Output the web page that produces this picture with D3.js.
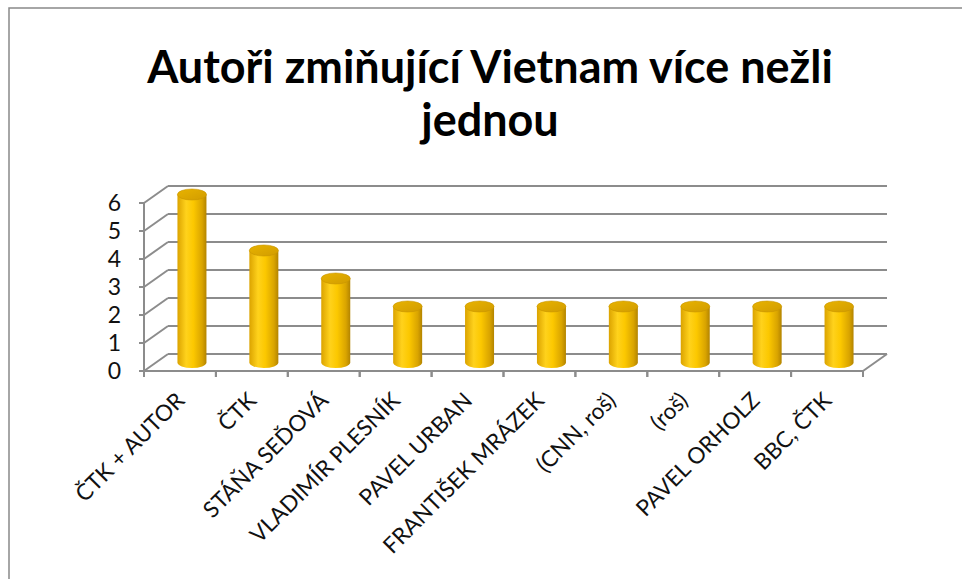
<!DOCTYPE html>
<html><head><meta charset="utf-8">
<script src="https://cdn.jsdelivr.net/npm/d3@7"></script>
<style>body{margin:0;background:#fff}svg{display:block}</style>
</head><body>
<script>
const categories = ["ČTK + AUTOR","ČTK","STÁŇA SEĎOVÁ","VLADIMÍR PLESNÍK","PAVEL URBAN","FRANTIŠEK MRÁZEK","(CNN, roš)","(roš)","PAVEL ORHOLZ","BBC, ČTK"];
const values = [6,4,3,2,2,2,2,2,2,2];
const yTicks = [0,1,2,3,4,5,6];
const titleLines = ["Autoři zmiňující Vietnam více nežli","jednou"];

const W=962,H=579;
const svg=d3.select("body").append("svg").attr("width",W).attr("height",H);
svg.append("rect").attr("x",9).attr("y",8).attr("width",1000).attr("height",1000)
  .attr("fill","#fff").attr("stroke","#898989").attr("stroke-width",1.5);

const t1=svg.append("text").attr("x",490).attr("y",83).attr("text-anchor","middle")
  .attr("font-family","Lato, 'Open Sans', sans-serif").attr("font-weight","bold").attr("font-size",38).text(titleLines[0]);
const len=t1.node().getComputedTextLength();
const fs=38*686/len;
t1.attr("font-size",fs);
svg.append("text").attr("x",490).attr("y",136).attr("text-anchor","middle")
  .attr("font-family","Lato, 'Open Sans', sans-serif").attr("font-weight","bold").attr("font-size",fs).text(titleLines[1]);

const x=d3.scaleBand().domain(categories).range([144,863]).paddingInner(0).paddingOuter(0);
const y=d3.scaleLinear().domain([0,6]).range([371,203]);
const dx=24, dy=-17;
const g=svg.append("g");
const grid="#8c8c8c";

yTicks.forEach(v=>{
  g.append("line").attr("x1",144+dx).attr("x2",863+dx).attr("y1",y(v)+dy).attr("y2",y(v)+dy)
   .attr("stroke",grid).attr("stroke-width",2);
  g.append("line").attr("x1",144).attr("y1",y(v)).attr("x2",144+dx).attr("y2",y(v)+dy)
   .attr("stroke",grid).attr("stroke-width",2);
});
g.append("line").attr("x1",863).attr("y1",y(0)).attr("x2",863+dx).attr("y2",y(0)+dy).attr("stroke",grid).attr("stroke-width",2);

const defs=svg.append("defs");
const gr=defs.append("linearGradient").attr("id","cyl").attr("x1",0).attr("x2",1).attr("y1",0).attr("y2",0);
[[0,"#dba300"],[0.3,"#ffd21c"],[0.55,"#fcc800"],[0.85,"#d9a400"],[1,"#b38400"]].forEach(([o,c])=>gr.append("stop").attr("offset",o).attr("stop-color",c));
const gt=defs.append("linearGradient").attr("id","cap").attr("x1",0).attr("x2",1).attr("y1",0).attr("y2",1);
[[0,"#e8b300"],[1,"#d19c00"]].forEach(([o,c])=>gt.append("stop").attr("offset",o).attr("stop-color",c));

const bw=29, ry=5.5;
const bars=g.selectAll("g.bar").data(values).join("g").attr("class","bar");
bars.each(function(v,i){
  const cx=x(categories[i])+x.bandwidth()/2+dx/2;
  const yb=y(0)+dy/2, yt=y(v)+dy/2;
  const s=d3.select(this);
  s.append("path").attr("d",`M${cx-bw/2},${yt} L${cx-bw/2},${yb} A${bw/2},${ry} 0 0 0 ${cx+bw/2},${yb} L${cx+bw/2},${yt} Z`)
   .attr("fill","url(#cyl)");
  s.append("ellipse").attr("cx",cx).attr("cy",yt).attr("rx",bw/2).attr("ry",ry)
   .attr("fill","url(#cap)").attr("stroke","#c99600").attr("stroke-width",0.6);
});

g.append("line").attr("x1",144).attr("x2",144).attr("y1",y(6)).attr("y2",y(0)).attr("stroke",grid).attr("stroke-width",2);
g.append("line").attr("x1",144).attr("x2",863).attr("y1",y(0)).attr("y2",y(0)).attr("stroke",grid).attr("stroke-width",2);
yTicks.forEach(v=>{
  g.append("line").attr("x1",139).attr("x2",144).attr("y1",y(v)).attr("y2",y(v)).attr("stroke",grid).attr("stroke-width",2);
  g.append("text").attr("x",121).attr("y",y(v)).attr("dy","0.36em").attr("text-anchor","end")
   .attr("font-family","Lato, 'Open Sans', sans-serif").attr("font-size",23).attr("fill","#111").text(v);
});
categories.forEach((c,i)=>{
  const xs=[x(c), x(c)+x.bandwidth()];
  xs.forEach(xx=>g.append("line").attr("x1",xx).attr("x2",xx).attr("y1",y(0)).attr("y2",y(0)+6).attr("stroke",grid).attr("stroke-width",2));
  const cx=x(c)+x.bandwidth()/2+6;
  g.append("text").attr("transform",`translate(${cx},${y(0)+31}) rotate(-45)`).attr("text-anchor","end")
   .attr("font-family","Lato, 'Open Sans', sans-serif").attr("font-size",22.5).attr("fill","#111").text(c);
});
</script>
</body></html>
